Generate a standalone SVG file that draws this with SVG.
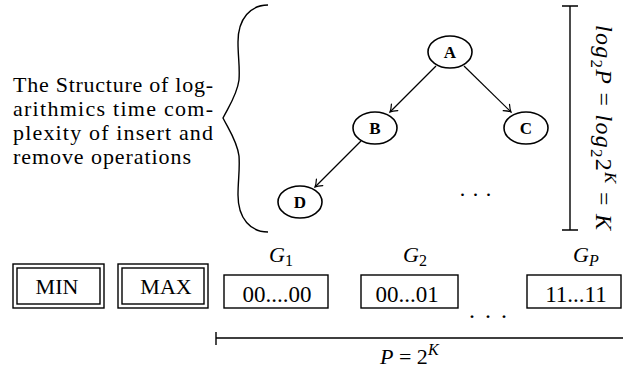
<svg xmlns="http://www.w3.org/2000/svg" width="623" height="369" viewBox="0 0 623 369">
<defs>
<style>
.nd{fill:#fff;stroke:#000;stroke-width:1.6}
.edge{stroke:#000;stroke-width:1.2;fill:none;marker-end:url(#arr)}
.box{fill:#fff;stroke:#000;stroke-width:1.4}
.line{stroke:#000;stroke-width:1.4;fill:none}
</style>
<marker id="arr" markerUnits="userSpaceOnUse" markerWidth="12" markerHeight="12" refX="0" refY="0" viewBox="-8 -6 10 12" orient="auto">
<path d="M-6.5,-4.5 Q-2.5,-1 0,0 Q-2.5,1 -6.5,4.5" fill="none" stroke="#000" stroke-width="1.2" stroke-linecap="round"/>
</marker>
</defs>
<rect width="623" height="369" fill="#fff"/>

<g id="caption" font-family="Liberation Serif" font-size="22">
<text x="13" y="92" textLength="200" lengthAdjust="spacing">The Structure of log-</text>
<text x="13" y="116" textLength="200" lengthAdjust="spacing">arithmics time com-</text>
<text x="13" y="140" textLength="200" lengthAdjust="spacing">plexity of insert and</text>
<text x="13" y="164" textLength="178" lengthAdjust="spacing">remove operations</text>
</g>

<g id="brace">
<path class="line" stroke-width="1.6" d="M268,5 C251,5 238,18 238,42 C238,58 240,66 239,80 C237,95 229,106 223,118 C229,130 237,141 239,156 C240,170 238,180 238,195 C238,219 251,232 268,232"/>
</g>

<g id="connectors">
<line class="edge" x1="436" y1="66" x2="390" y2="112"/>
<line class="edge" x1="464" y1="66" x2="511" y2="112"/>
<line class="edge" x1="361" y1="141" x2="315" y2="187"/>
</g>

<g id="A"><ellipse class="nd" cx="450" cy="52" rx="22" ry="16"/><text font-family="Liberation Serif" font-weight="bold" font-size="17" text-anchor="middle" x="450" y="58">A</text></g>
<g id="B"><ellipse class="nd" cx="375" cy="128" rx="22" ry="16"/><text font-family="Liberation Serif" font-weight="bold" font-size="17" text-anchor="middle" x="375" y="134">B</text></g>
<g id="C"><ellipse class="nd" cx="526" cy="128" rx="22" ry="16"/><text font-family="Liberation Serif" font-weight="bold" font-size="17" text-anchor="middle" x="526" y="134">C</text></g>
<g id="D"><ellipse class="nd" cx="300" cy="202" rx="22" ry="16"/><text font-family="Liberation Serif" font-weight="bold" font-size="17" text-anchor="middle" x="300" y="208">D</text></g>

<g id="tree-dots"><text font-family="Liberation Serif" x="476" y="196" font-size="22" text-anchor="middle" letter-spacing="1">. . .</text></g>

<g id="height">
<path class="line" d="M570,6 V230 M562,6 H578 M562,230 H578"/>
<text font-family="Liberation Serif" transform="translate(596,25) rotate(90)" font-size="24" textLength="205" lengthAdjust="spacing"><tspan font-style="italic">log</tspan><tspan font-size="17" dy="5">2</tspan><tspan font-style="italic" dy="-5">P</tspan> = <tspan font-style="italic">log</tspan><tspan font-size="17" dy="5">2</tspan><tspan dy="-5">2</tspan><tspan font-style="italic" font-size="17" dy="-9">K</tspan><tspan dy="9"> = </tspan><tspan font-style="italic">K</tspan></text>
</g>

<g id="MIN">
<rect class="box" x="13" y="264" width="91" height="44"/>
<rect class="box" x="17" y="268" width="83" height="36"/>
<text font-family="Liberation Serif" font-size="22" x="57" y="294" text-anchor="middle">MIN</text>
</g>
<g id="MAX">
<rect class="box" x="118" y="264" width="90" height="44"/>
<rect class="box" x="122" y="268" width="82" height="36"/>
<text font-family="Liberation Serif" font-size="22" x="166" y="294" text-anchor="middle">MAX</text>
</g>

<g id="G1">
<rect class="box" x="224" y="275" width="104" height="33"/>
<text font-family="Liberation Serif" font-size="23" text-anchor="middle" x="277" y="302">00....00</text>
<text font-family="Liberation Serif" font-size="22" x="269" y="262"><tspan font-style="italic">G</tspan><tspan font-size="16" dy="4">1</tspan></text>
</g>
<g id="G2">
<rect class="box" x="361" y="275" width="97" height="33"/>
<text font-family="Liberation Serif" font-size="23" text-anchor="middle" x="407" y="302">00...01</text>
<text font-family="Liberation Serif" font-size="22" x="403" y="262"><tspan font-style="italic">G</tspan><tspan font-size="16" dy="4">2</tspan></text>
</g>
<g id="GP">
<rect class="box" x="527" y="275" width="94" height="33"/>
<text font-family="Liberation Serif" font-size="23" text-anchor="middle" x="576" y="302">11...11</text>
<text font-family="Liberation Serif" font-size="22" x="573" y="262"><tspan font-style="italic">G</tspan><tspan font-style="italic" font-size="16" dy="4">P</tspan></text>
</g>

<g id="row-dots"><text font-family="Liberation Serif" x="489" y="318" font-size="24" text-anchor="middle" letter-spacing="2">. . .</text></g>

<g id="width">
<path class="line" d="M216,338 H623 M216,332 V345"/>
<text font-family="Liberation Serif" x="380" y="364" font-size="22"><tspan font-style="italic">P</tspan> = 2<tspan font-style="italic" font-size="16" dy="-9">K</tspan></text>
</g>
</svg>
